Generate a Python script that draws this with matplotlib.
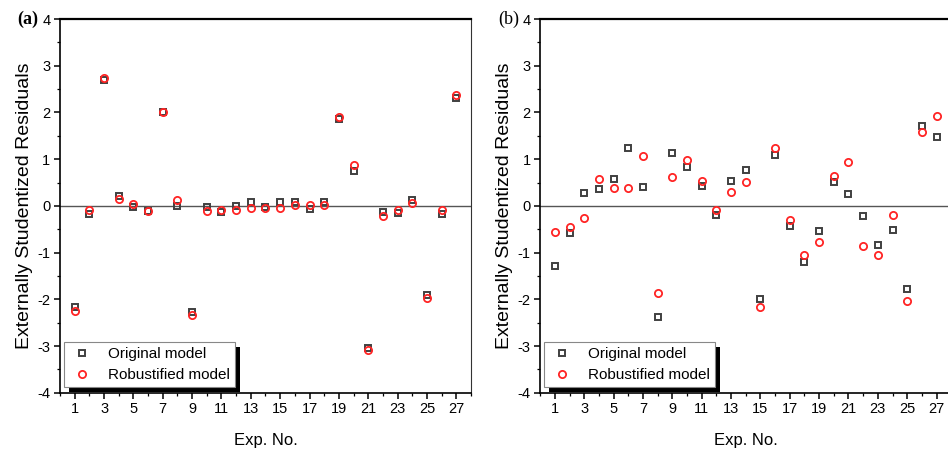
import matplotlib
matplotlib.use("Agg")
import matplotlib.pyplot as plt
from matplotlib.patches import Rectangle
from matplotlib.ticker import MultipleLocator

plt.rcParams['font.family'] = ['Liberation Sans', 'DejaVu Sans']
plt.rcParams['axes.unicode_minus'] = False

# --- data ---
exp_no = list(range(1, 28))

# (a)
orig_a = [-2.17, -0.18, 2.69, 0.21, -0.03, -0.10, 2.00, 0.00, -2.28, -0.02,
          -0.14, -0.01, 0.09, -0.03, 0.09, 0.09, -0.06, 0.09, 1.87, 0.74,
          -3.05, -0.14, -0.16, 0.12, -1.91, -0.18, 2.32]
robust_a = [-2.24, -0.09, 2.74, 0.14, 0.03, -0.11, 2.01, 0.12, -2.33, -0.11,
            -0.08, -0.08, -0.04, -0.04, -0.04, 0.01, 0.01, 0.01, 1.91, 0.87,
            -3.09, -0.21, -0.08, 0.06, -1.97, -0.08, 2.38]

# (b)
orig_b = [-1.28, -0.58, 0.28, 0.37, 0.58, 1.24, 0.41, -2.38, 1.13, 0.84,
          0.43, -0.20, 0.53, 0.76, -1.99, 1.09, -0.43, -1.21, -0.54, 0.51,
          0.26, -0.21, -0.84, -0.51, -1.78, 1.70, 1.48]
robust_b = [-0.57, -0.46, -0.25, 0.58, 0.38, 0.39, 1.06, -1.87, 0.62, 0.98,
            0.54, -0.09, 0.30, 0.52, -2.16, 1.23, -0.30, -1.06, -0.77, 0.64,
            0.94, -0.86, -1.06, -0.20, -2.04, 1.58, 1.93]

x_ticks = list(range(1, 28, 2))
y_ticks = list(range(-4, 5))

fig = plt.figure(figsize=(9.48, 4.5), dpi=100)
ax_a = fig.add_axes([0.0633, 0.1273, 0.4335, 0.8304])
ax_b = fig.add_axes([0.5699, 0.1273, 0.4335, 0.8304])


def draw_panel(ax, orig, robust, tag, bold):
    ax.axhline(0, color='#555555', linewidth=1.0, zorder=1)
    ax.plot(exp_no, orig, linestyle='none', marker='s', markersize=4.2,
            markerfacecolor='none', markeredgecolor='#404040',
            markeredgewidth=1.4, label='Original model', zorder=3)
    ax.plot(exp_no, robust, linestyle='none', marker='o', markersize=5.2,
            markerfacecolor='none', markeredgecolor='#ff2424',
            markeredgewidth=1.3, label='Robustified model', zorder=4)

    ax.set_xlim(0, 28)
    ax.set_ylim(-4, 4)
    ax.set_xticks(x_ticks)
    ax.set_yticks(y_ticks)
    ax.xaxis.set_minor_locator(MultipleLocator(1))
    ax.yaxis.set_minor_locator(MultipleLocator(0.5))
    ax.tick_params(which='major', direction='out', length=4, width=1.1,
                   labelsize=10.5, pad=3)
    ax.tick_params(which='minor', direction='out', length=2.5, width=0.9)

    ax.spines['top'].set_linewidth(1.6)
    ax.spines['left'].set_linewidth(1.2)
    ax.spines['bottom'].set_linewidth(1.2)
    ax.spines['right'].set_linewidth(0.8)
    ax.spines['right'].set_color('#333333')

    ax.set_xlabel('Exp. No.', fontsize=12, labelpad=12)
    ax.set_ylabel('Externally Studentized Residuals', fontsize=14, labelpad=3)

    ax.text(-0.052, 1.0, tag, transform=ax.transAxes, ha='right', va='center',
            fontsize=13, family='Liberation Serif',
            fontweight='bold' if bold else 'normal')

    leg = ax.legend(loc='lower left', bbox_to_anchor=(0.01, 0.014),
                    borderaxespad=0, fontsize=11, numpoints=1,
                    fancybox=False, framealpha=1, edgecolor='#888888',
                    handlelength=1.6, handletextpad=0.9, borderpad=0.35,
                    labelspacing=0.45)
    leg.get_frame().set_linewidth(0.8)
    return leg


leg_a = draw_panel(ax_a, orig_a, robust_a, '(a)', True)
leg_b = draw_panel(ax_b, orig_b, robust_b, '(b)', False)

# black drop shadow behind the legend box
fig.canvas.draw()
for ax, leg in [(ax_a, leg_a), (ax_b, leg_b)]:
    bb = leg.get_frame().get_window_extent().transformed(fig.transFigure.inverted())
    dx = 5 / 948
    dy = 5 / 450
    shadow = Rectangle((bb.x0 + dx, bb.y0 - dy), bb.width, bb.height,
                       transform=fig.transFigure, facecolor='black',
                       edgecolor='none', zorder=4.9, clip_on=False)
    ax.add_patch(shadow)

fig.savefig('out.png', dpi=100)
